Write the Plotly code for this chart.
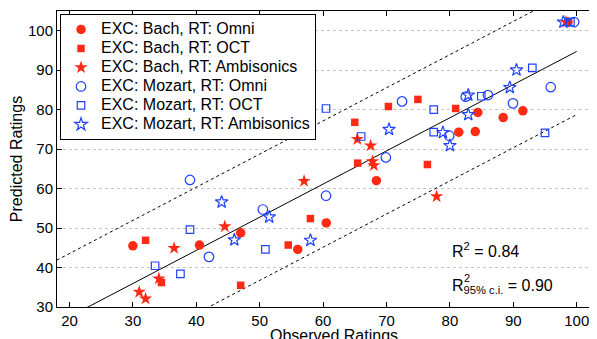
import plotly.graph_objects as go

# ---------------- data ----------------
bach_omni_x = [30.0, 40.5, 47.0, 56.0, 60.5, 68.4, 81.4, 84.0, 84.4, 88.4, 91.5, 98.6]
bach_omni_y = [45.5, 45.7, 48.8, 44.6, 51.3, 62.0, 74.3, 74.45, 79.3, 78.0, 79.7, 102.2]

bach_oct_x = [32.0, 34.5, 47.0, 54.5, 58.0, 65.45, 65.0, 70.3, 74.95, 80.9, 76.45, 98.7]
bach_oct_y = [46.9, 36.2, 35.5, 45.7, 52.4, 66.45, 76.8, 80.8, 82.6, 80.3, 66.1, 102.3]

bach_amb_x = [31.0, 32.0, 34.1, 36.5, 44.5, 57.0, 65.4, 67.5, 67.8, 68.0, 77.9, 98.3]
bach_amb_y = [33.8, 32.1, 37.2, 44.9, 50.4, 61.9, 72.5, 70.9, 66.9, 65.9, 58.0, 102.2]

mozart_omni_x = [39.0, 42.0, 50.5, 60.46, 69.9, 72.45, 79.9, 82.5, 86.0, 89.95, 95.9, 99.6]
mozart_omni_y = [62.2, 42.7, 54.7, 58.2, 67.9, 82.1, 73.4, 83.3, 83.7, 81.6, 85.7, 102.2]

mozart_oct_x = [33.5, 37.5, 39.0, 50.9, 60.46, 66.0, 77.45, 77.45, 84.95, 93.0, 95.0, 99.0]
mozart_oct_y = [40.45, 38.4, 49.6, 44.6, 80.3, 73.2, 80.0, 74.3, 83.4, 90.6, 74.1, 102.2]

mozart_amb_x = [44.0, 46.0, 51.5, 58.0, 70.4, 78.9, 80.0, 82.9, 82.9, 89.45, 90.5, 97.9]
mozart_amb_y = [56.6, 47.0, 52.8, 46.9, 75.0, 74.2, 70.9, 83.7, 78.75, 85.6, 90.05, 102.2]

series_names = ["EXC: Bach, RT: Omni", "EXC: Bach, RT: OCT", "EXC: Bach, RT: Ambisonics",
                "EXC: Mozart, RT: Omni", "EXC: Mozart, RT: OCT", "EXC: Mozart, RT: Ambisonics"]

# regression fit and 95% interval
fit_slope = 0.84
fit_intercept = 10.75
ci_halfwidth = 16.0
fit_x = [18.0, 100.0]

r2_text = "0.84"
r2_ci_text = "0.90"

x_ticks = [20, 30, 40, 50, 60, 70, 80, 90, 100]
y_ticks = [30, 40, 50, 60, 70, 80, 90, 100]

# ---------------- styling ----------------
RED = "#ff2a14"
BLUE = "#2040ff"
FONT = "Liberation Sans, Arial, Helvetica, sans-serif"

fig = go.Figure()

fit_y = [fit_slope * x + fit_intercept for x in fit_x]
fig.add_trace(go.Scatter(x=fit_x, y=fit_y, mode="lines",
                         line=dict(color="black", width=1), showlegend=False, hoverinfo="skip"))
fig.add_trace(go.Scatter(x=fit_x, y=[v + ci_halfwidth for v in fit_y], mode="lines",
                         line=dict(color="black", width=1, dash="3px,3px"), showlegend=False, hoverinfo="skip"))
fig.add_trace(go.Scatter(x=fit_x, y=[v - ci_halfwidth for v in fit_y], mode="lines",
                         line=dict(color="black", width=1, dash="3px,3px"), showlegend=False, hoverinfo="skip"))

series = [
    (bach_omni_x, bach_omni_y, "circle", 9.5, RED),
    (bach_oct_x, bach_oct_y, "square", 7.5, RED),
    (bach_amb_x, bach_amb_y, "star", 10, RED),
    (mozart_omni_x, mozart_omni_y, "circle-open", 9.5, BLUE),
    (mozart_oct_x, mozart_oct_y, "square-open", 7.5, BLUE),
    (mozart_amb_x, mozart_amb_y, "star-open", 9.5, BLUE),
]
for (xs, ys, sym, size, col), name in zip(series, series_names):
    fig.add_trace(go.Scatter(
        x=xs, y=ys, mode="markers",
        name="<span style='font-size:16px'>" + name + "</span>",
        marker=dict(symbol=sym, size=size, color=col,
                    line=dict(color=col, width=1.2 if "open" in sym else 0)),
    ))

# the page body adds an 8 px offset; the figure is sized so the plot lands where the reference has it
fig.update_layout(
    width=589, height=331,
    margin=dict(l=49, r=0, t=3, b=32),
    paper_bgcolor="white", plot_bgcolor="white",
    font=dict(family=FONT, size=15, color="black"),
    showlegend=True,
    legend=dict(x=0.0056, y=0.99, xanchor="left", yanchor="top",
                bgcolor="white", bordercolor="black", borderwidth=1,
                font=dict(family=FONT, size=11.5, color="black"),
                itemwidth=30, tracegroupgap=0),
    xaxis=dict(range=[18.03, 103.2], tickvals=x_ticks, ticks="inside", ticklen=5,
               tickcolor="black", showline=True, linecolor="black", linewidth=1,
               mirror="ticks", showgrid=False, zeroline=False, automargin=False,
               tickfont=dict(family=FONT, size=15)),
    yaxis=dict(range=[30, 105], tickvals=y_ticks, ticks="inside", ticklen=5,
               tickcolor="black", showline=True, linecolor="black", linewidth=1,
               mirror=False, showgrid=True, gridcolor="#c4c4c4", griddash="dot",
               gridwidth=1, zeroline=False, automargin=False,
               tickfont=dict(family=FONT, size=15),
               title=dict(text="Predicted Ratings", font=dict(family=FONT, size=16), standoff=1)),
    annotations=[
        dict(text="Observed Ratings", xref="paper", yref="paper", x=(334 - 57) / 540, y=-0.062,
             xanchor="center", yanchor="top", showarrow=False, font=dict(family=FONT, size=16)),
        dict(text="R<sup>2</sup> = " + r2_text, xref="x", yref="y", x=80.0, y=44.4,
             xanchor="left", yanchor="middle", showarrow=False, font=dict(family=FONT, size=16)),
        dict(text="R<sub>95% c.i.</sub> = " + r2_ci_text, xref="x", yref="y", x=80.0, y=35.1,
             xanchor="left", yanchor="middle", showarrow=False, font=dict(family=FONT, size=16)),
        dict(text="2", xref="x", yref="y", x=81.85, y=37.3,
             xanchor="left", yanchor="middle", showarrow=False, font=dict(family=FONT, size=11)),
    ],
)

fig.write_html("out.html")
